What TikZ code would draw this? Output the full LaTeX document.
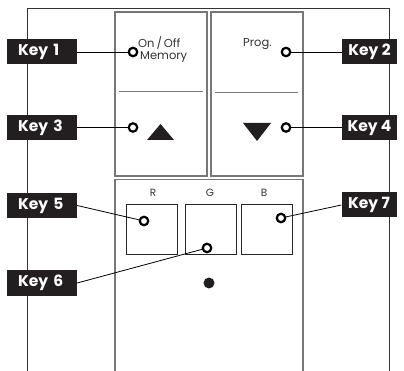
\documentclass[tikz,border=0pt]{standalone}
\usepackage{fontspec}
\setmainfont{Poppins}
\definecolor{keyblack}{HTML}{231F20}
\definecolor{framegray}{HTML}{777777}
\definecolor{txtgray}{HTML}{333333}
\begin{document}
\begin{tikzpicture}[x=1pt,y=-1pt,
  keybase/.style={fill=keyblack, text=white, inner ysep=0pt, minimum height=25pt,
    font=\bfseries\fontsize{15.5}{15.5}\selectfont},
  keyleft/.style={keybase, text width=48pt, align=left, inner xsep=11pt},
  keyright/.style={keybase, minimum width=55pt, inner xsep=0pt},
  hole/.style={circle, draw=black, fill=white, line width=2.2pt, minimum size=8.5pt, inner sep=0pt},
  conn/.style={draw=black, line width=0.8pt},
  panel/.style={draw=framegray, line width=1.1pt},
  small/.style={text=txtgray, inner sep=0pt, font=\fontsize{11.5}{11.5}\selectfont},
  tiny/.style={text=txtgray, inner sep=0pt, font=\fontsize{10.5}{10.5}\selectfont}
  ]
\useasboundingbox (0,0) rectangle (404,371);
% outer frame
\draw[draw=black!80, line width=1pt] (27,371) -- (27,9) -- (389,9) -- (389,371);
% top panels
\draw[panel] (115,12) rectangle (207,176);
\draw[panel] (211,12) rectangle (303,176);
\draw[panel, line width=0.8pt] (119,91) -- (203,91);
\draw[panel, line width=0.8pt] (215,92.5) -- (298,92.5);
% bottom panel
\draw[panel] (115,371) -- (115,179.5) -- (303,179.5) -- (303,371);
% RGB squares
\draw[draw=black!85, line width=0.8pt] (126,204) rectangle (177,254);
\draw[draw=black!85, line width=0.8pt] (185,204) rectangle (236,254);
\draw[draw=black!85, line width=0.8pt] (241,204) rectangle (292,254);
% triangles
\fill[keyblack] (147,140) -- (174,140) -- (160.5,124) -- cycle;
\fill[keyblack] (243,123) -- (271,123) -- (257,141) -- cycle;
% dot
\fill[keyblack] (209,283) circle (5.5pt);
% texts
\node[small, anchor=base west] (t1) at (138,48) {On\,/\,Off};
\node[small, anchor=base west] (t2) at (140,59.5) {Memory};
\node[small, anchor=base west] (t3) at (243,46.5) {Prog.};
\node[tiny, anchor=base] (tr) at (153,196.5) {R};
\node[tiny, anchor=base] (tg) at (210,196.5) {G};
\node[tiny, anchor=base] (tb) at (264,196.5) {B};
% key labels
\node[keyleft] (k1) at (42,52) {Key 1};
\node[keyleft] (k3) at (42,127.5) {Key 3};
\node[keyleft] (k5) at (42,205.5) {Key 5};
\node[keyleft] (k6) at (42,283) {Key 6};
\node[keyright] (k2) at (369.5,52) {Key 2};
\node[keyright] (k4) at (369.5,127.5) {Key 4};
\node[keyright] (k7) at (369,205) {Key 7};
% holes
\coordinate (h1) at (133,52);
\coordinate (h3) at (133,127.5);
\coordinate (h2) at (286,52);
\coordinate (h4) at (286,127.5);
\coordinate (h5) at (144,221);
\coordinate (h6) at (207,248);
\coordinate (h7) at (281,218);
\draw[conn] (k1.east) -- (h1);
\draw[conn] (k3.east) -- (h3);
\draw[conn] (k5.east) -- (h5);
\draw[conn] (k6.east) -- (h6);
\draw[conn] (k2.west) -- (h2);
\draw[conn] (k4.west) -- (h4);
\draw[conn] (k7.west) -- (h7);
\node[hole] (c1) at (h1) {};
\node[hole] (c3) at (h3) {};
\node[hole] (c2) at (h2) {};
\node[hole] (c4) at (h4) {};
\node[hole] (c5) at (h5) {};
\node[hole] (c6) at (h6) {};
\node[hole] (c7) at (h7) {};
\end{tikzpicture}
\end{document}
